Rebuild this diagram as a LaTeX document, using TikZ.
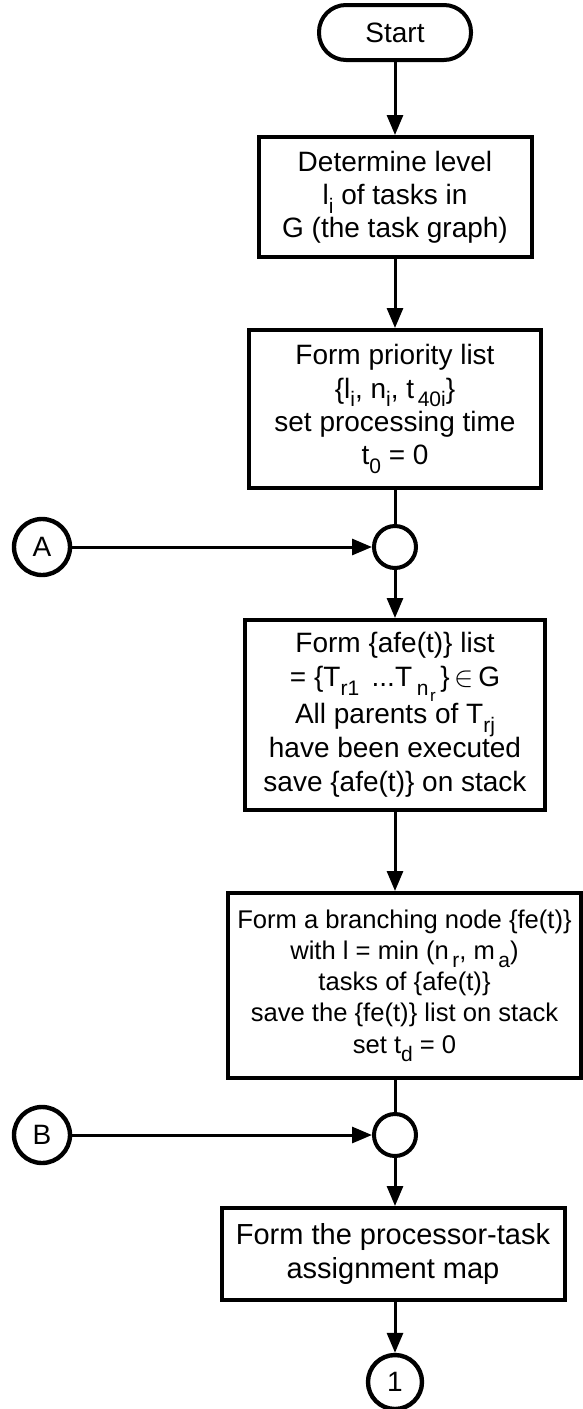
\documentclass[tikz,border=0pt]{standalone}
\usepackage{fontspec}
\setmainfont{Liberation Sans}
\usetikzlibrary{arrows.meta}
\newcommand{\sbs}[1]{\raisebox{-0.6ex}{\fontsize{10.5}{10.5}\selectfont #1}}
\newcommand{\sbsb}[1]{\raisebox{-1.0ex}{\fontsize{8.5}{8.5}\selectfont #1}}
\tikzset{
  procbox/.style={draw,rectangle,line width=2pt,align=center,inner sep=2pt,font=\fontsize{14}{16.6}\selectfont},
  startbox/.style={draw,rectangle,rounded corners=13.5pt,line width=2pt,minimum width=76pt,minimum height=27.5pt,font=\fontsize{14}{16}\selectfont},
  joint/.style={draw,circle,line width=2pt,minimum size=21pt,inner sep=0pt},
  conn/.style={draw,circle,line width=2.2pt,minimum size=28pt,inner sep=0pt,font=\fontsize{14}{16}\selectfont}
}

\begin{document}
\begin{tikzpicture}[x=0.5pt,y=-0.5pt,line width=1.5pt,>={Triangle[length=10pt,width=8pt]}]
  \useasboundingbox (0,0) rectangle (583,1409);
  \node[startbox] (start) at (395,32.5) {Start};
  \node[procbox,minimum width=136.5pt,minimum height=60pt] (level) at (395,197)
    {Determine level\\ l\sbs{i} of tasks in\\ G (the task graph)};
  \node[procbox,minimum width=146pt,minimum height=79pt] (prio) at (395,409)
    {Form priority list\\ \{l\sbs{i}, n\sbs{i}, t\sbs{\,40i}\}\\ set processing time\\ t\sbs{0} = 0};
  \node[joint] (ja) at (395,547) {};
  \node[conn] (ca) at (42,547) {A};
  \node[procbox,minimum width=150pt,minimum height=95pt,font=\fontsize{14}{17}\selectfont] (afe) at (395,715)
    {Form \{afe(t)\} list\\ = \{T\sbs{r1} \,...T\,\sbs{n}\kern0.8pt\sbsb{r}\,\}\,$\in$\,G\\ All parents of T\sbs{rj}\\ have been executed\\ save \{afe(t)\} on stack};
  \node[procbox,minimum width=176.5pt,minimum height=92.5pt,font=\fontsize{12.8}{15.6}\selectfont] (fe) at (404.5,985.5)
    {Form a branching node \{fe(t)\}\\ with l = min (n\sbs{\,r}, m\sbs{\,a})\\ tasks of \{afe(t)\}\\ save the \{fe(t)\} list on stack\\ set t\sbs{d} = 0};
  \node[joint] (jb) at (395,1135) {};
  \node[conn] (cb) at (42,1135) {B};
  \node[procbox,minimum width=171.5pt,minimum height=46pt,font=\fontsize{14.5}{17}\selectfont] (map) at (393,1254)
    {Form the processor-task\\ assignment map};
  \node[conn,minimum size=27pt] (one) at (395,1382) {1};

  \draw[->] (start) -- (level);
  \draw[->] (level) -- (prio);
  \draw (prio) -- (ja);
  \draw[->] (ca) -- (ja);
  \draw[->] (ja) -- (afe);
  \draw[->] (afe) -- (afe |- fe.north);
  \draw (jb |- fe.south) -- (jb);
  \draw[->] (cb) -- (jb);
  \draw[->] (jb) -- (jb |- map.north);
  \draw[->] (jb |- map.south) -- (one);
\end{tikzpicture}
\end{document}
